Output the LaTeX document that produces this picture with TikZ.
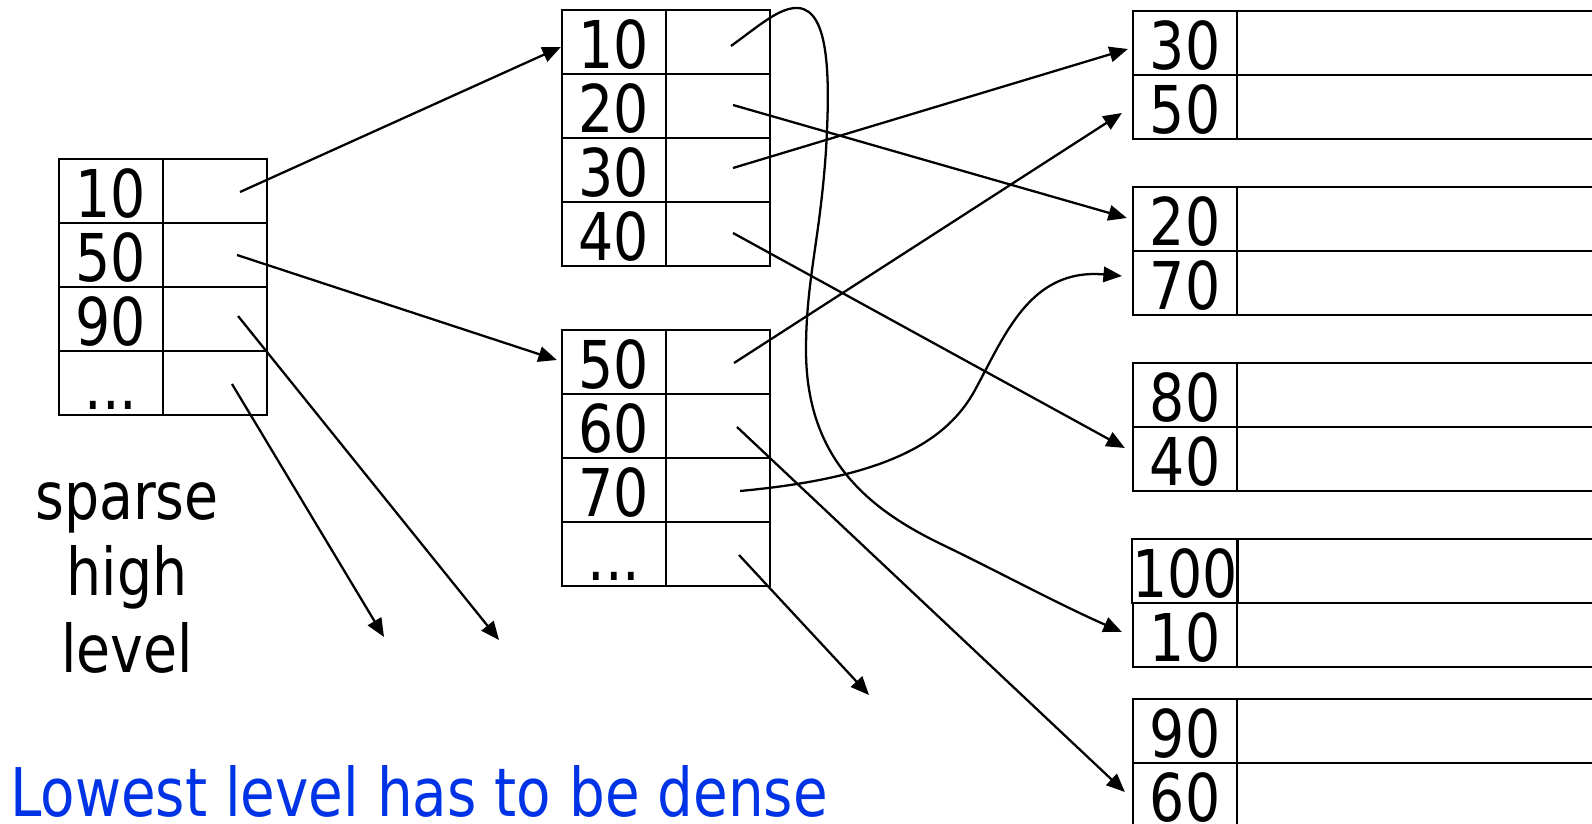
\documentclass[tikz,border=0pt]{standalone}
\usepackage{fontspec}
\setmainfont[FakeStretch=0.84]{DejaVu Sans}
\usepackage{tikz}
\usetikzlibrary{arrows.meta}
\definecolor{noteblue}{RGB}{0,51,230}

\begin{document}
\begin{tikzpicture}[x=0.02cm,y=-0.02cm,->,>={Triangle[length=10.5pt,width=8.8pt]},line width=1.3pt,
	cell font/.style={font=\fontsize{37.5}{43.5}\selectfont},
	key node/.style={draw,rectangle,inner sep=0pt,minimum width=2.08cm,minimum height=1.28cm,
	cell font,text height=30pt,text depth=0pt},
	ptr node/.style={draw,rectangle,inner sep=0pt,minimum width=2.08cm,minimum height=1.28cm},
	rec node/.style={draw,rectangle,inner sep=0pt,minimum width=7.6cm,minimum height=1.28cm}]
	
	\useasboundingbox (0,0) rectangle (1592,824);
	\clip (0,0) rectangle (1592,824);
	
	% sparse index
	\node[key node] (s1) at (111,191) {10};
	\node[ptr node] (s1p) at (215,191) {};
	\node[key node] (s2) at (111,255) {50};
	\node[ptr node] (s2p) at (215,255) {};
	\node[key node] (s3) at (111,319) {90};
	\node[ptr node] (s3p) at (215,319) {};
	\node[key node] (s4) at (111,383) {...};
	\node[ptr node] (s4p) at (215,383) {};
	
	\node[cell font,align=center,inner sep=0pt] (lbl) at (127,578) {sparse\\high\\level};
	
	% second level, two blocks
	\node[key node] (a1) at (614,42)  {10};
	\node[ptr node] (a1p) at (718,42)  {};
	\node[key node] (a2) at (614,106) {20};
	\node[ptr node] (a2p) at (718,106) {};
	\node[key node] (a3) at (614,170) {30};
	\node[ptr node] (a3p) at (718,170) {};
	\node[key node] (a4) at (614,234) {40};
	\node[ptr node] (a4p) at (718,234) {};
	
	\node[key node] (b1) at (614,362) {50};
	\node[ptr node] (b1p) at (718,362) {};
	\node[key node] (b2) at (614,426) {60};
	\node[ptr node] (b2p) at (718,426) {};
	\node[key node] (b3) at (614,490) {70};
	\node[ptr node] (b3p) at (718,490) {};
	\node[key node] (b4) at (614,554) {...};
	\node[ptr node] (b4p) at (718,554) {};
	
	% data blocks
	\node[key node] (d1)  at (1185,43)  {30};
	\node[rec node] (d1r) at (1427,43)  {};
	\node[key node] (d2)  at (1185,107) {50};
	\node[rec node] (d2r) at (1427,107) {};
	\node[key node] (d3)  at (1185,219) {20};
	\node[rec node] (d3r) at (1427,219) {};
	\node[key node] (d4)  at (1185,283) {70};
	\node[rec node] (d4r) at (1427,283) {};
	\node[key node] (d5)  at (1185,395) {80};
	\node[rec node] (d5r) at (1427,395) {};
	\node[key node] (d6)  at (1185,459) {40};
	\node[rec node] (d6r) at (1427,459) {};
	\node[key node] (d7)  at (1185,571) {100};
	\node[rec node] (d7r) at (1427,571) {};
	\node[key node] (d8)  at (1185,635) {10};
	\node[rec node] (d8r) at (1427,635) {};
	\node[key node] (d9)  at (1185,731) {90};
	\node[rec node] (d9r) at (1427,731) {};
	\node[key node] (d10) at (1185,795) {60};
	\node[rec node] (d10r) at (1427,795) {};
	
	\node[font=\fontsize{38.2}{44}\selectfont,text=noteblue,anchor=base west,inner sep=0pt] (note) at (9,816)
	{Lowest level has to be dense};
	
	% pointers that lead off to blocks not shown
	\coordinate (s3x) at (499,640);
	\coordinate (s4x) at (384,637);
	\coordinate (b4x) at (869,695);
	
	\draw ([shift={(25,1)}]s1p.center) -- ([shift={(0,5)}]a1.west);
	\draw ([shift={(22,0)}]s2p.center) -- ([shift={(-4,-2)}]b1.west);
	\draw ([shift={(23,-3)}]s3p.center) -- (s3x);
	\draw ([shift={(17,1)}]s4p.center) -- (s4x);
	
	\draw ([shift={(13,4)}]a1p.center) .. controls (760,25) and (780,7) .. (798,8)
	.. controls (830,10) and (830,80) .. (826,150)
	.. controls (820,240) and (806,280) .. (806,350)
	.. controls (806,460) and (870,510) .. (943,545)
	.. controls (995,570) and (1060,605) .. ([shift={(-10,-3)}]d8.west);
	\draw ([shift={(15,-1)}]a2p.center) -- ([shift={(-5,-1)}]d3.west);
	\draw ([shift={(15,-2)}]a3p.center) -- ([shift={(-4,6)}]d1.west);
	\draw ([shift={(15,-1)}]a4p.center) -- ([shift={(-7,-11)}]d6.west);
	
	\draw ([shift={(16,1)}]b1p.center) -- ([shift={(-10,6)}]d2.west);
	\draw ([shift={(19,1)}]b2p.center) -- ([shift={(-7,-3)}]d10.west);
	\draw ([shift={(22,1)}]b3p.center) .. controls (880,478) and (945,445) .. (975,390)
	.. controls (1005,335) and (1030,268) .. ([shift={(-10,-7)}]d4.west);
	\draw ([shift={(21,1)}]b4p.center) -- (b4x);
	
\end{tikzpicture}
\end{document}
